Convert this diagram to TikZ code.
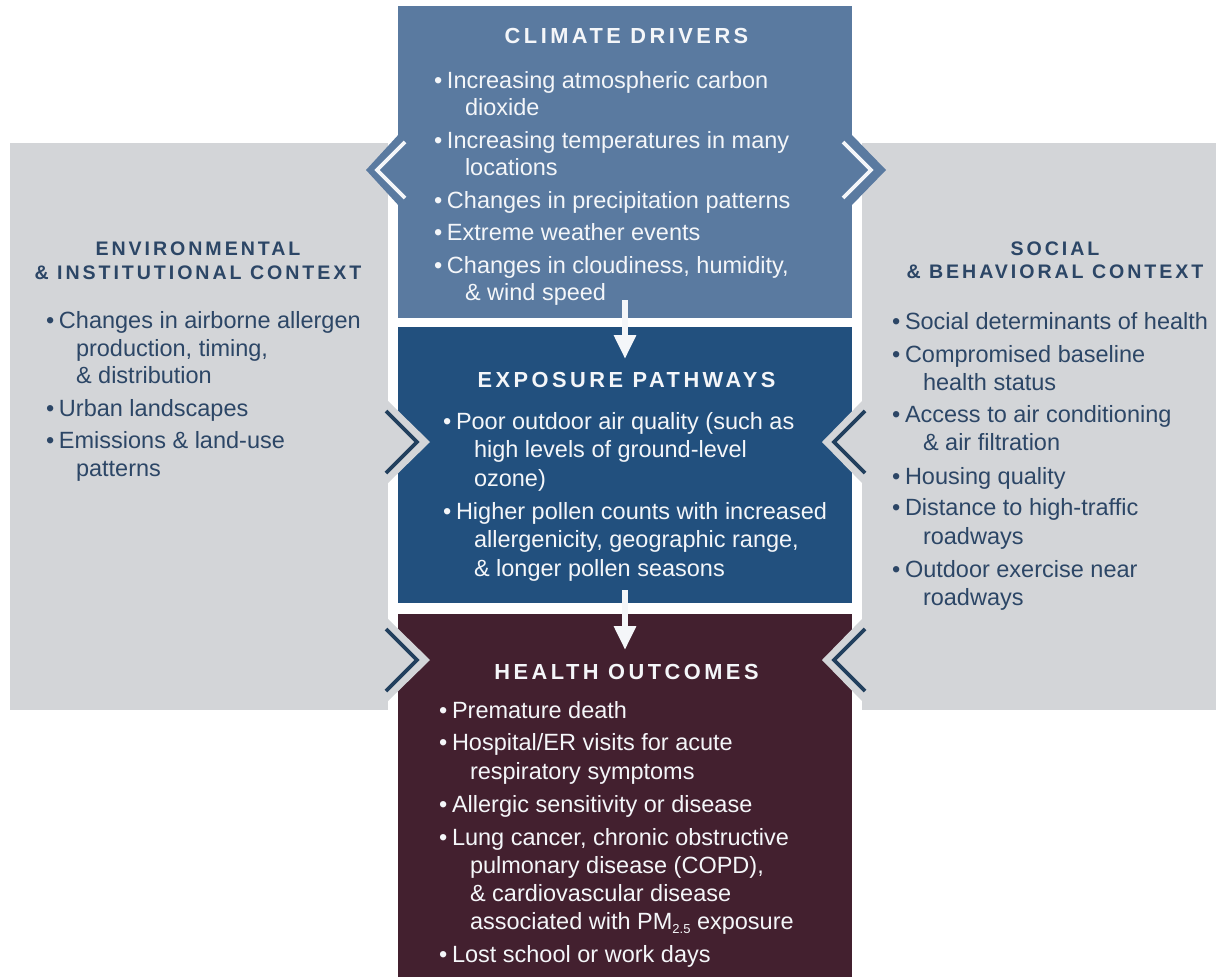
\documentclass[tikz,border=0pt]{standalone}
\usepackage{fontspec}
\setmainfont{Liberation Sans}
\newfontfamily\hdfont{Liberation Sans}[LetterSpace=16]
\newfontfamily\sdfont{Liberation Sans}[LetterSpace=15]
\usetikzlibrary{arrows.meta}
\definecolor{climc}{HTML}{5A7AA0}
\definecolor{expoc}{HTML}{22507E}
\definecolor{healc}{HTML}{43202F}
\definecolor{panelgray}{HTML}{D3D5D8}
\definecolor{navytext}{HTML}{2C4666}
\definecolor{navyline}{HTML}{22405E}
\definecolor{textw}{HTML}{F4F6F9}
\newcommand\mybul{\makebox[13pt][l]{•}}
\newcommand\tline[4]{\node[#1] (#2) at (#3) {#4};}
\tikzset{
  body/.style={anchor=base west, inner sep=0pt, outer sep=0pt, font=\fontsize{23.5}{28}\selectfont},
  wtext/.style={body, text=textw},
  ntext/.style={body, text=navytext},
  chead/.style={anchor=base, inner sep=0pt, outer sep=0pt, font=\hdfont\bfseries\fontsize{21.8}{24}\selectfont, text=textw},
  shead/.style={anchor=base, inner sep=0pt, outer sep=0pt, font=\sdfont\bfseries\fontsize{19.6}{22}\selectfont, text=navytext},
  block/.style={draw=none, inner sep=0pt, outer sep=0pt, anchor=north west},
  chevline/.style={line width=3.6pt, line join=miter, line cap=butt},
  warrow/.style={draw=textw, line width=6pt, -{Triangle[width=21pt,length=24pt]}}
}
\begin{document}
\begin{tikzpicture}[x=1pt,y=-1pt]
\useasboundingbox (0,0) rectangle (1216,977);
\fill[white] (0,0) rectangle (1216,977);
% side panels
\node[block, fill=panelgray, minimum width=378pt, minimum height=567pt] (envpanel) at (10,143) {};
\node[block, fill=panelgray, minimum width=354pt, minimum height=567pt] (socpanel) at (862,143) {};
% central boxes
\node[block, fill=climc, minimum width=454pt, minimum height=312pt] (climate) at (398,6) {};
\node[block, fill=expoc, minimum width=454pt, minimum height=276pt] (expo) at (398,327) {};
\node[block, fill=healc, minimum width=454pt, minimum height=363pt] (health) at (398,614) {};
% chevrons on climate box
\fill[climc] (400,133) -- (366,170) -- (400,207) -- cycle;
\draw[chevline, textw] (405,142) -- (377,170) -- (405,198);
\fill[climc] (850,133) -- (886,170) -- (850,207) -- cycle;
\draw[chevline, textw] (843,142) -- (871,170) -- (843,198);
% chevrons from side panels into exposure box
\fill[panelgray] (386,399) -- (430,442) -- (386,485) -- cycle;
\draw[chevline, navyline] (386,411) -- (417,442) -- (386,473);
\fill[panelgray] (864,399) -- (822,442) -- (864,485) -- cycle;
\draw[chevline, navyline] (865,411) -- (834,442) -- (865,473);
% chevrons from side panels into health box
\fill[panelgray] (386,617) -- (430,660) -- (386,703) -- cycle;
\draw[chevline, navyline] (386,629) -- (417,660) -- (386,691);
\fill[panelgray] (864,617) -- (822,660) -- (864,703) -- cycle;
\draw[chevline, navyline] (865,629) -- (834,660) -- (865,691);
% climate drivers text
\tline{chead}{c0}{626.5,43}{CLIMATE DRIVERS}
\tline{wtext}{c1}{434,88}{\mybul Increasing atmospheric carbon}
\tline{wtext}{c2}{465,115.5}{dioxide}
\tline{wtext}{c3}{434,148}{\mybul Increasing temperatures in many}
\tline{wtext}{c4}{465,175.5}{locations}
\tline{wtext}{c5}{434,208}{\mybul Changes in precipitation patterns}
\tline{wtext}{c6}{434,240.5}{\mybul Extreme weather events}
\tline{wtext}{c7}{434,273}{\mybul Changes in cloudiness, humidity,}
\tline{wtext}{c8}{465,300.5}{\& wind speed}
% exposure text
\tline{chead}{e0}{626.5,387}{EXPOSURE PATHWAYS}
\tline{wtext}{e1}{443,429}{\mybul Poor outdoor air quality (such as}
\tline{wtext}{e2}{474,457.5}{high levels of ground-level}
\tline{wtext}{e3}{474,486}{ozone)}
\tline{wtext}{e4}{443,519}{\mybul Higher pollen counts with increased}
\tline{wtext}{e5}{474,547.5}{allergenicity, geographic range,}
\tline{wtext}{e6}{474,576}{\& longer pollen seasons}
% health text
\tline{chead}{h0}{626.5,679}{HEALTH OUTCOMES}
\tline{wtext}{h1}{439,718}{\mybul Premature death}
\tline{wtext}{h2}{439,750.5}{\mybul Hospital/ER visits for acute}
\tline{wtext}{h3}{470,779}{respiratory symptoms}
\tline{wtext}{h4}{439,812}{\mybul Allergic sensitivity or disease}
\tline{wtext}{h5}{439,845}{\mybul Lung cancer, chronic obstructive}
\tline{wtext}{h6}{470,873.5}{pulmonary disease (COPD),}
\tline{wtext}{h7}{470,901}{\& cardiovascular disease}
\tline{wtext}{h8}{470,929}{associated with PM\raisebox{-4pt}{\fontsize{13}{13}\selectfont 2.5} exposure}
\tline{wtext}{h9}{439,962}{\mybul Lost school or work days}
% environmental panel text
\tline{shead}{l0a}{198,255}{ENVIRONMENTAL}
\tline{shead}{l0b}{198,279}{\& INSTITUTIONAL CONTEXT}
\tline{ntext}{l1}{46,328}{\mybul Changes in airborne allergen}
\tline{ntext}{l2}{76,356}{production, timing,}
\tline{ntext}{l3}{76,383.5}{\& distribution}
\tline{ntext}{l4}{46,416}{\mybul Urban landscapes}
\tline{ntext}{l5}{46,448}{\mybul Emissions \& land-use}
\tline{ntext}{l6}{76,476}{patterns}
% social panel text
\tline{shead}{r0a}{1055,255}{SOCIAL}
\tline{shead}{r0b}{1055,278.5}{\& BEHAVIORAL CONTEXT}
\tline{ntext}{r1}{892,329}{\mybul Social determinants of health}
\tline{ntext}{r2}{892,362}{\mybul Compromised baseline}
\tline{ntext}{r3}{923,390}{health status}
\tline{ntext}{r4}{892,422}{\mybul Access to air conditioning}
\tline{ntext}{r5}{923,450}{\& air filtration}
\tline{ntext}{r6}{892,484}{\mybul Housing quality}
\tline{ntext}{r7}{892,515}{\mybul Distance to high-traffic}
\tline{ntext}{r8}{923,544}{roadways}
\tline{ntext}{r9}{892,577}{\mybul Outdoor exercise near}
\tline{ntext}{r10}{923,605}{roadways}
% arrows between the boxes
\coordinate (a1s) at (625,300);
\coordinate (a1e) at (625,359);
\coordinate (a2s) at (625,590);
\coordinate (a2e) at (625,650);
\draw[warrow] (a1s) -- (a1e);
\draw[warrow] (a2s) -- (a2e);
\end{tikzpicture}
\end{document}
